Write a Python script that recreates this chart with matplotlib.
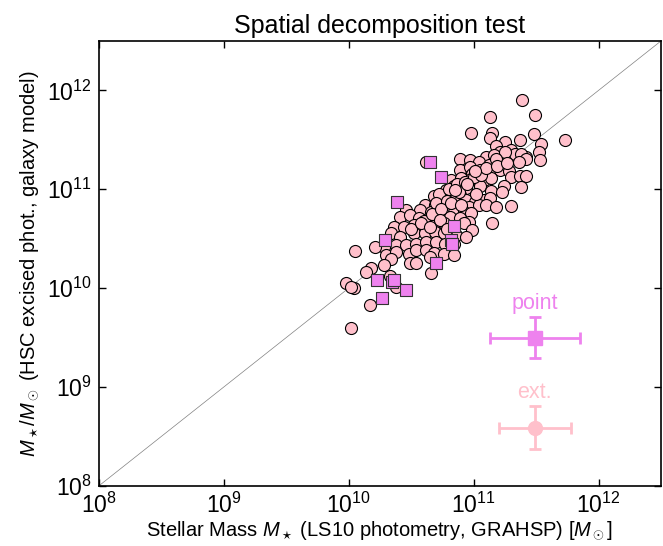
import numpy as np
import matplotlib
matplotlib.use("Agg")
import matplotlib.pyplot as plt

plt.rcParams['font.family'] = ['Liberation Sans', 'DejaVu Sans']
plt.rcParams['mathtext.fontset'] = 'custom'
plt.rcParams['mathtext.rm'] = 'Liberation Sans'
plt.rcParams['mathtext.it'] = 'Liberation Sans:italic'
plt.rcParams['mathtext.bf'] = 'Liberation Sans:bold'

# log10 stellar masses
# extended sources (pink circles)
ext_logx = [11.39, 11.13, 11.49, 10.98, 11.15, 11.13, 11.48, 11.73, 11.37, 11.25,
            11.18, 11.54, 11.30, 11.21, 11.33, 11.42, 11.38, 11.52, 11.10, 11.16,
            11.25, 10.89, 10.97, 11.04, 11.12, 11.18, 11.42, 11.53, 11.36, 10.62,
            11.21, 11.28, 10.89, 10.97, 11.05, 11.12, 11.30, 11.37, 11.42, 10.99,
            10.82, 10.90, 10.98, 11.08, 11.14, 11.24, 11.38, 10.84, 10.94, 11.05,
            11.14, 11.23, 10.78, 10.73, 10.89, 10.68, 10.77, 10.84, 10.94, 11.01,
            11.08, 11.13, 10.61, 10.69, 10.78, 10.86, 10.96, 11.04, 11.10, 11.18,
            11.30, 10.46, 10.57, 10.66, 10.76, 10.84, 10.92, 10.98, 10.41, 10.49,
            10.56, 10.64, 10.72, 10.81, 10.89, 10.96, 10.52, 10.58, 10.68, 10.76,
            10.92, 10.99, 11.15, 10.36, 10.44, 10.34, 10.41, 10.52, 10.61, 10.69,
            10.76, 10.86, 10.94, 10.28, 10.38, 10.46, 10.54, 10.62, 10.70, 10.77,
            10.84, 10.05, 10.30, 10.38, 10.48, 10.54, 10.62, 10.68, 10.76, 10.84,
            10.34, 10.28, 10.18, 10.14, 10.49, 10.54, 10.65, 10.66, 9.98, 10.04,
            10.02, 10.33, 10.38, 10.17, 10.02, 10.21,
            10.72, 10.80, 10.87, 10.93, 11.00, 10.70, 10.79, 10.88, 10.95, 11.02,
            10.60, 10.67, 10.74, 10.82, 10.90, 10.50, 10.58, 10.65, 10.73, 11.06,
            11.10, 11.19, 11.27, 11.01, 10.85, 10.79]
ext_logy = [11.90, 11.73, 11.75, 11.57, 11.57, 11.52, 11.56, 11.50, 11.50, 11.48,
            11.44, 11.46, 11.40, 11.38, 11.36, 11.33, 11.36, 11.38, 11.33, 11.35,
            11.38, 11.31, 11.30, 11.28, 11.25, 11.31, 11.31, 11.30, 11.28, 11.28,
            11.20, 11.18, 11.20, 11.23, 11.20, 11.15, 11.12, 11.13, 11.13, 11.15,
            11.09, 11.11, 11.10, 11.09, 11.11, 11.03, 11.02, 11.03, 11.01, 11.03,
            10.98, 10.97, 10.99, 10.94, 10.94, 10.93, 10.91, 10.93, 10.89, 10.87,
            10.89, 10.91, 10.84, 10.84, 10.82, 10.82, 10.82, 10.84, 10.84, 10.82,
            10.83, 10.79, 10.79, 10.77, 10.77, 10.77, 10.77, 10.76, 10.72, 10.74,
            10.71, 10.71, 10.72, 10.72, 10.71, 10.67, 10.64, 10.62, 10.64, 10.66,
            10.66, 10.59, 10.66, 10.62, 10.62, 10.56, 10.52, 10.56, 10.56, 10.57,
            10.56, 10.54, 10.52, 10.42, 10.44, 10.44, 10.45, 10.47, 10.47, 10.45,
            10.45, 10.38, 10.34, 10.37, 10.35, 10.39, 10.39, 10.36, 10.35, 10.34,
            10.29, 10.23, 10.20, 10.16, 10.25, 10.25, 10.32, 10.15, 10.05, 10.00,
            10.01, 10.12, 10.01, 9.83, 9.60, 10.42,
            10.95, 11.00, 11.05, 11.07, 11.12, 10.86, 10.88, 10.97, 11.05, 10.95,
            10.68, 10.75, 10.80, 10.86, 10.84, 10.60, 10.66, 10.62, 10.69, 11.14,
            11.22, 11.24, 11.27, 11.18, 10.99, 10.60]

# point sources (violet squares)
pt_logx = [10.65, 10.74, 10.39, 10.84, 10.82, 10.83, 10.29, 10.70, 10.23, 10.35,
           10.36, 10.46, 10.27]
pt_logy = [11.28, 11.12, 10.87, 10.63, 10.49, 10.45, 10.49, 10.25, 10.08, 10.06,
           10.08, 9.98, 9.90]

# typical uncertainties (dex): centre x, centre y, err x, err y
pt_err = [11.49, 9.50, 0.36, 0.21]
ext_err = [11.49, 8.59, 0.29, 0.22]

lo, hi = 1e8, 10**12.5

fig = plt.figure(figsize=(6.63, 5.46), dpi=100)
ax = fig.add_axes([0.149, 0.110, 0.848, 0.815])

ax.plot([lo, hi], [lo, hi], color='gray', lw=0.5, zorder=1)

ax.scatter(10**np.array(ext_logx), 10**np.array(ext_logy), s=75, marker='o',
           facecolor='pink', edgecolor='black', linewidth=0.8, zorder=2)
ax.scatter(10**np.array(pt_logx), 10**np.array(pt_logy), s=70, marker='s',
           facecolor='violet', edgecolor='#333333', linewidth=0.8, zorder=3)

for (cx, cy, ex, ey), col, mk, lab in [(pt_err, 'violet', 's', 'point'),
                                      (ext_err, 'pink', 'o', 'ext.')]:
    x0, y0 = 10**cx, 10**cy
    ax.errorbar([x0], [y0],
                xerr=[[x0 - 10**(cx - ex)], [10**(cx + ex) - x0]],
                yerr=[[y0 - 10**(cy - ey)], [10**(cy + ey) - y0]],
                fmt=mk, color=col, ms=10, elinewidth=2, capsize=4, capthick=2,
                zorder=4)
    ax.text(x0, 10**(cy + ey + 0.13), lab, color=col, ha='center', va='center',
            fontsize=15.5)

ax.set_xscale('log')
ax.set_yscale('log')
ax.set_xlim(lo, hi)
ax.set_ylim(lo, hi)
ax.set_xticks([1e8, 1e9, 1e10, 1e11, 1e12])
ax.set_yticks([1e8, 1e9, 1e10, 1e11, 1e12])
ax.minorticks_off()
ax.tick_params(direction='in', top=True, right=True, length=5, width=1,
               labelsize=16.5, pad=5)
for s in ax.spines.values():
    s.set_linewidth(1.2)

ax.set_title('Spatial decomposition test', fontsize=18, pad=6)
ax.set_xlabel(r'Stellar Mass $M_\star$ (LS10 photometry, GRAHSP) [$M_\odot$]',
              fontsize=14.5, labelpad=1)
ax.set_ylabel(r'$M_\star/M_\odot$ (HSC excised phot., galaxy model)',
              fontsize=14.5, labelpad=4)

fig.savefig('out.png', dpi=100)
